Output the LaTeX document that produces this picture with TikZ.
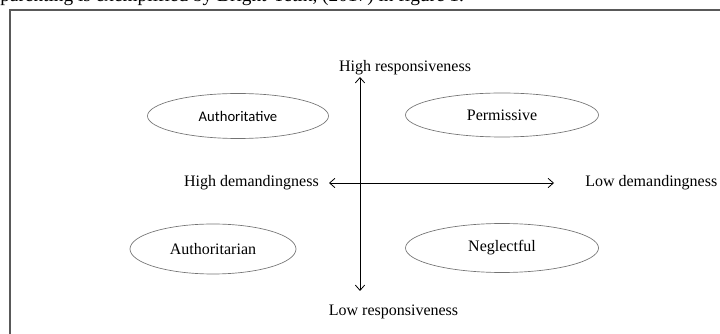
\documentclass[tikz,border=0pt]{standalone}
\usepackage{fontspec}
\setmainfont{Liberation Serif}
\newfontfamily\calfont{Carlito}
\usetikzlibrary{shapes.geometric,arrows.meta}
\tikzset{
  quad/.style={ellipse, draw=black!55, line width=0.5pt, inner sep=0pt, font=\fontsize{12}{14}\selectfont},
  axislbl/.style={inner sep=0pt, font=\fontsize{12}{14}\selectfont},
  axisline/.style={line width=0.6pt, {Straight Barb[length=4pt,width=7pt]}-{Straight Barb[length=4pt,width=7pt]}},
}
\begin{document}
\begin{tikzpicture}[x=0.75pt,y=-0.75pt]
\useasboundingbox (0,0) rectangle (720,334);
\clip (0,0) rectangle (720,334);
\node[anchor=base west, inner sep=0pt, font=\fontsize{14.5}{16}\selectfont] (cap) at (0,1.5) {parenting is exemplified by Bright-Tetik, (2017) in figure 1.};
\draw[black!65, line width=0.8pt] (10,345) -- (10,10) -- (730,10);
\node[quad, minimum width=135.75pt, minimum height=33.75pt, font=\calfont\fontsize{11}{13}\selectfont] (aut) at (238,116) {Authoritative};
\node[quad, minimum width=144.75pt, minimum height=33pt] (per) at (502,115) {Permissive};
\node[quad, minimum width=124.5pt, minimum height=37.5pt] (atn) at (213,249) {Authoritarian};
\node[quad, minimum width=144.75pt, minimum height=36.75pt] (neg) at (502,248) {Neglectful};
\coordinate (top) at (360,77);
\coordinate (bot) at (360,291);
\coordinate (lft) at (329,183);
\coordinate (rgt) at (554,183);
\draw[axisline] (top) -- (bot);
\draw[axisline] (lft) -- (rgt);
\node[axislbl] (hr) at (405,68) {High responsiveness};
\node[axislbl] (lr) at (393.5,312) {Low responsiveness};
\node[axislbl, anchor=east] (hd) at (319,183) {High demandingness};
\node[axislbl, anchor=west] (ld) at (585,183) {Low demandingness};
\end{tikzpicture}
\end{document}
